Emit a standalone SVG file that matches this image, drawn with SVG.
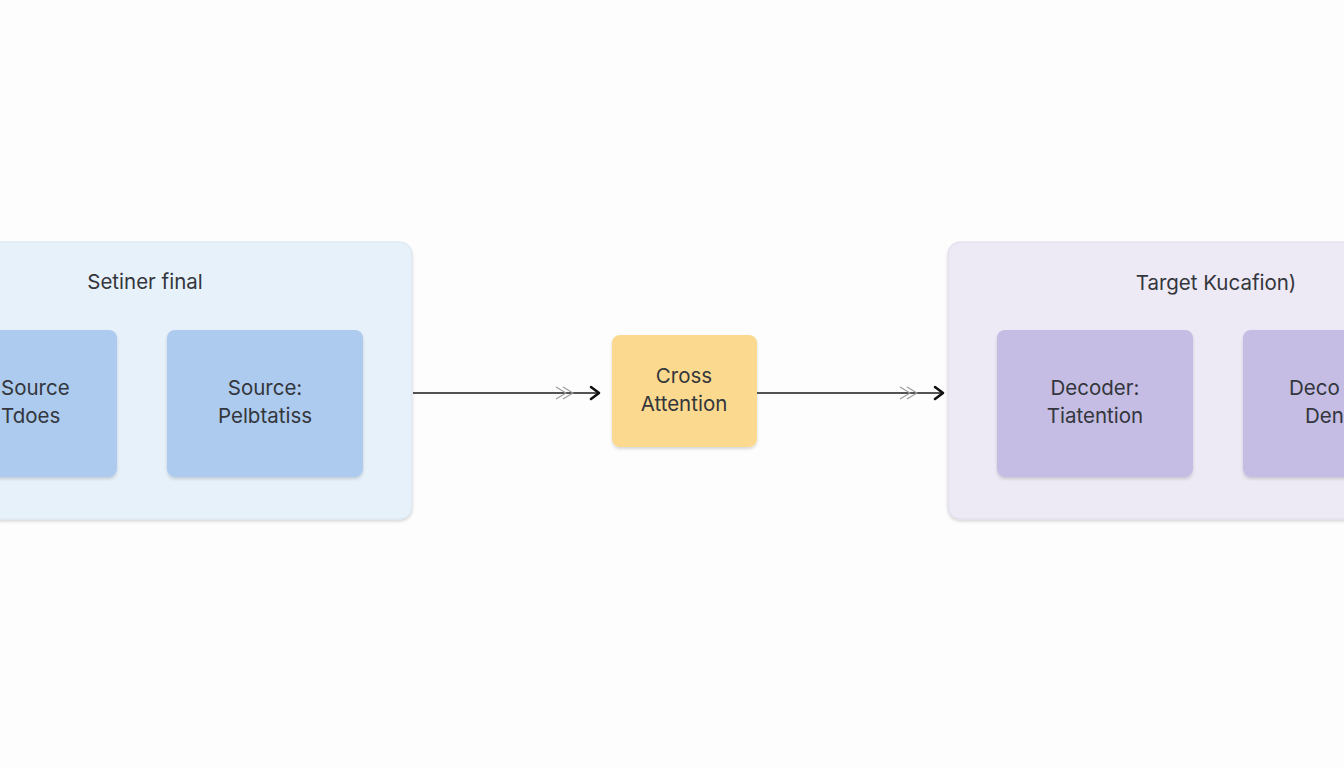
<svg xmlns="http://www.w3.org/2000/svg" width="1344" height="768" viewBox="0 0 1344 768">
<defs>
<style>
.t{font-family:Inter,"Open Sans","Liberation Sans",sans-serif;fill:#33363c;text-anchor:middle}
.title{font-size:20.5px}
.lbl{font-size:20.5px}
.conn{stroke:#1a1a1a;stroke-width:1.6;fill:none}
.ghost{stroke:#9a9a9a;stroke-width:1.1;fill:none}
.head{stroke:#111;stroke-width:2.6;fill:none;stroke-linecap:round;stroke-linejoin:round}
</style>
<filter id="sh" x="-10%" y="-10%" width="120%" height="130%">
<feDropShadow dx="0" dy="2" stdDeviation="1.5" flood-color="#000" flood-opacity="0.15"/>
</filter>
</defs>
<rect width="1344" height="768" fill="#fdfdfd"/>

<g id="encoder-group">
<rect x="-12" y="242" width="424" height="277" rx="12" fill="#e7f1fa" stroke="#d9e4ef" stroke-width="1" filter="url(#sh)"/>
<text class="t title" x="145" y="289">Setiner final</text>
</g>
<g id="source-tdoes">
<rect x="-80" y="330" width="197" height="147" rx="8" fill="#adcbee" filter="url(#sh)"/>
<text class="t lbl" x="1" y="395" style="text-anchor:start">Source</text>
<text class="t lbl" x="1" y="423" style="text-anchor:start">Tdoes</text>
</g>
<g id="source-pelbtatiss">
<rect x="167" y="330" width="196" height="147" rx="8" fill="#adcbee" filter="url(#sh)"/>
<text class="t lbl" x="265" y="395">Source:</text>
<text class="t lbl" x="265" y="423">Pelbtatiss</text>
</g>

<g id="cross-attention">
<rect x="612" y="335" width="145" height="112" rx="8" fill="#fbd98e" filter="url(#sh)"/>
<text class="t lbl" x="684" y="383">Cross</text>
<text class="t lbl" x="684" y="411">Attention</text>
</g>

<g id="decoder-group">
<rect x="948" y="242" width="410" height="277" rx="12" fill="#ede9f5" stroke="#dedae8" stroke-width="1" filter="url(#sh)"/>
<text class="t title" x="1216" y="290">Target Kucafion)</text>
</g>
<g id="decoder-tiatention">
<rect x="997" y="330" width="196" height="147" rx="8" fill="#c5bde3" filter="url(#sh)"/>
<text class="t lbl" x="1095" y="395">Decoder:</text>
<text class="t lbl" x="1095" y="423">Tiatention</text>
</g>
<g id="decoder-2">
<rect x="1243" y="330" width="196" height="147" rx="8" fill="#c5bde3" filter="url(#sh)"/>
<text class="t lbl" x="1289" y="395" style="text-anchor:start">Deco</text>
<text class="t lbl" x="1305" y="423" style="text-anchor:start">Den</text>
</g>

<g id="connectors">
<line class="conn" x1="413" y1="393" x2="599" y2="393"/>
<path class="ghost" d="M556 387 L566 393 L556 399 M563 387 L573 393 L563 399"/>
<path class="head" d="M591 387 L599 393 L591 399"/>
<line class="conn" x1="757" y1="393" x2="943" y2="393"/>
<path class="ghost" d="M900 387 L910 393 L900 399 M907 387 L917 393 L907 399"/>
<path class="head" d="M935 387 L943 393 L935 399"/>
</g>
</svg>
